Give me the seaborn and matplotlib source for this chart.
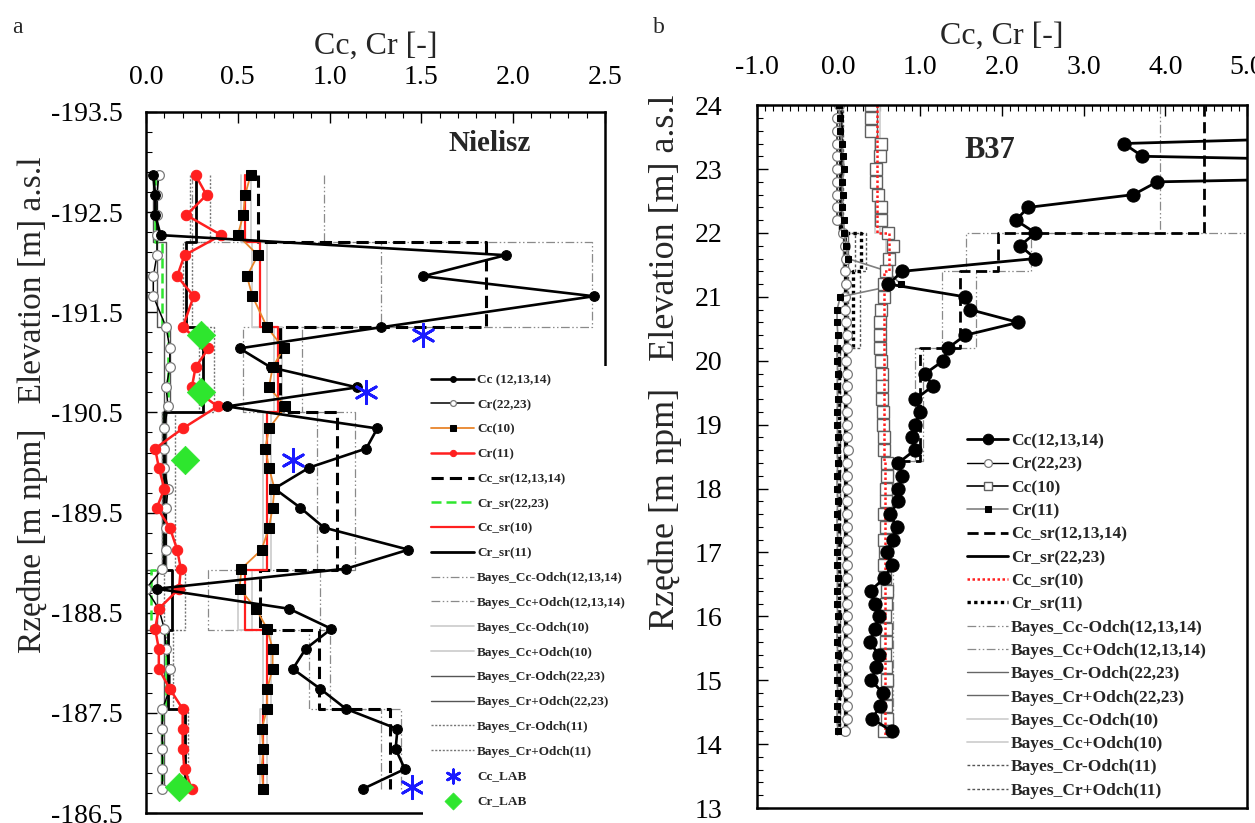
import numpy as np
import matplotlib
matplotlib.use("Agg")
import matplotlib.pyplot as plt
from matplotlib.ticker import FixedLocator, MultipleLocator, FormatStrFormatter
from matplotlib.patches import Rectangle
import seaborn as sns

sns.set_theme(style="white")
plt.rcParams["font.family"] = ["Liberation Serif", "DejaVu Serif"]
plt.rcParams["mathtext.fontset"] = "stix"

# ---------------- Panel a (Nielisz) ----------------
a_depth = [-192.87, -192.67, -192.47, -192.27, -192.07, -191.86, -191.66, -191.35,
           -191.14, -190.95, -190.75, -190.56, -190.34, -190.14, -189.95, -189.74,
           -189.55, -189.35, -189.13, -188.94, -188.74, -188.54, -188.34, -188.14,
           -187.94, -187.74, -187.54, -187.34, -187.14, -186.94, -186.74]
a_cc121314 = [0.04, 0.05, 0.05, 0.08, 1.96, 1.51, 2.44, 1.28, 0.51, 0.68, 1.15, 0.44,
              1.26, 1.20, 0.89, 0.70, 0.84, 0.97, 1.43, 1.09, 0.06, 0.78, 1.01, 0.87,
              0.80, 0.95, 1.09, 1.37, 1.36, 1.41, 1.18]
a_cr2223 = [0.07, 0.06, 0.06, 0.06, 0.06, 0.04, 0.04, 0.11, 0.13, 0.13, 0.11, 0.12,
            0.10, 0.10, 0.10, 0.12, 0.11, 0.11, 0.11, 0.09, 0.00, 0.07, 0.10, 0.11,
            0.13, 0.13, 0.09, 0.09, 0.09, 0.09, 0.09]
a_cc10 = [0.57, 0.54, 0.53, 0.50, 0.61, 0.55, 0.58, 0.66, 0.75, 0.69, 0.67, 0.76,
          0.67, 0.65, 0.67, 0.70, 0.69, 0.67, 0.63, 0.52, 0.51, 0.60, 0.66, 0.69,
          0.69, 0.66, 0.66, 0.63, 0.64, 0.63, 0.64]
a_cr11 = [0.27, 0.33, 0.22, 0.41, 0.21, 0.17, 0.26, 0.20, 0.34, 0.27, 0.25, 0.39,
          0.20, 0.05, 0.07, 0.10, 0.06, 0.13, 0.17, 0.19, 0.18, 0.07, 0.05, 0.07,
          0.07, 0.13, 0.20, 0.20, 0.20, 0.21, 0.25]

a_bounds = [-192.87, -192.2, -191.35, -190.5, -188.93, -188.33, -187.54, -186.74]
a_cc_sr121314 = [0.61, 1.85, 0.73, 1.04, 0.62, 0.94, 1.33]
a_cr_sr2223 = [0.05, 0.09, 0.12, 0.10, 0.03, 0.11, 0.09]
a_cc_sr10 = [0.54, 0.62, 0.72, 0.66, 0.54, 0.66, 0.64]
a_cr_sr11 = [0.27, 0.22, 0.31, 0.10, 0.14, 0.12, 0.21]
a_bay_cc121314_lo = [0.25, 1.28, 0.53, 0.93, 0.34, 0.89, 1.28]
a_bay_cc121314_hi = [0.97, 2.43, 0.85, 1.14, 0.95, 1.00, 1.39]
a_bay_cc10_lo = [0.52, 0.58, 0.70, 0.64, 0.50, 0.64, 0.62]
a_bay_cc10_hi = [0.57, 0.66, 0.74, 0.68, 0.58, 0.68, 0.66]
a_bay_cr2223_lo = [0.04, 0.06, 0.10, 0.09, 0.00, 0.10, 0.08]
a_bay_cr2223_hi = [0.06, 0.11, 0.13, 0.11, 0.06, 0.12, 0.10]
a_bay_cr11_lo = [0.24, 0.20, 0.29, 0.09, 0.10, 0.11, 0.20]
a_bay_cr11_hi = [0.35, 0.25, 0.37, 0.16, 0.21, 0.15, 0.23]

a_lab_depth = [-191.27, -190.70, -190.03, -186.76]
a_cc_lab = [1.51, 1.20, 0.80, 1.45]
a_cr_lab = [0.30, 0.30, 0.21, 0.18]

a_xticks = [0.0, 0.5, 1.0, 1.5, 2.0, 2.5]
a_yticks = [-193.5, -192.5, -191.5, -190.5, -189.5, -188.5, -187.5, -186.5]

# ---------------- Panel b (B37) ----------------
b_depth = [24.0, 23.8, 23.6, 23.4, 23.2, 23.0, 22.8, 22.6, 22.4, 22.2, 22.0, 21.8,
           21.6, 21.4, 21.2, 21.0, 20.8, 20.6, 20.4, 20.2, 20.0, 19.8, 19.6, 19.4,
           19.2, 19.0, 18.8, 18.6, 18.4, 18.2, 18.0, 17.8, 17.6, 17.4, 17.2, 17.0,
           16.8, 16.6, 16.4, 16.2, 16.0, 15.8, 15.6, 15.4, 15.2, 15.0, 14.8, 14.6,
           14.4, 14.2]
b_cr2223 = [0.00, -0.02, -0.02, -0.02, -0.02, -0.02, -0.02, -0.02, -0.02, -0.02,
            0.05, 0.08, 0.09, 0.08, 0.09, 0.08, 0.08, 0.09, 0.10, 0.10, 0.09, 0.10,
            0.10, 0.09, 0.10, 0.10, 0.10, 0.11, 0.10, 0.10, 0.10, 0.10, 0.10, 0.10,
            0.10, 0.10, 0.10, 0.10, 0.10, 0.10, 0.10, 0.10, 0.10, 0.10, 0.10, 0.10,
            0.10, 0.10, 0.10, 0.08]
b_cc10 = [0.40, 0.40, 0.40, 0.52, 0.50, 0.46, 0.46, 0.48, 0.52, 0.52, 0.60, 0.67,
          0.62, 0.58, 0.56, 0.55, 0.52, 0.50, 0.50, 0.51, 0.52, 0.53, 0.53, 0.53,
          0.54, 0.54, 0.55, 0.55, 0.59, 0.59, 0.58, 0.58, 0.56, 0.58, 0.56, 0.57,
          0.55, 0.57, 0.59, 0.58, 0.57, 0.58, 0.58, 0.57, 0.58, 0.59, 0.58, 0.58,
          0.59, 0.55]
b_cr11 = [0.00, 0.02, 0.02, 0.04, 0.05, 0.07, 0.04, 0.05, 0.04, 0.06, 0.07, 0.09,
          0.11, 0.60, 0.76, 0.02, -0.02, -0.02, -0.01, -0.02, -0.02, -0.01, -0.02,
          -0.01, -0.02, -0.02, -0.01, -0.02, -0.01, -0.02, -0.02, -0.01, -0.02,
          -0.02, -0.01, -0.02, -0.02, -0.01, -0.02, -0.02, -0.01, -0.02, -0.02,
          -0.01, -0.02, -0.02, -0.01, -0.02, -0.02, -0.01]
b_cc_depth = [23.6, 23.4, 23.2, 23.0, 22.8, 22.6, 22.4, 22.2, 22.0, 21.8, 21.6, 21.4,
              21.2, 21.0, 20.8, 20.6, 20.4, 20.2, 20.0, 19.8, 19.6, 19.4, 19.2, 19.0,
              18.8, 18.6, 18.4, 18.2, 18.0, 17.8, 17.6, 17.4, 17.2, 17.0, 16.8, 16.6,
              16.4, 16.2, 16.0, 15.8, 15.6, 15.4, 15.2, 15.0, 14.8, 14.6, 14.4, 14.2]
b_cc121314 = [9.0, 3.49, 3.72, 12.0, 3.90, 3.61, 2.32, 2.17, 2.41, 2.22, 2.41, 0.78,
              0.61, 1.55, 1.61, 2.20, 1.55, 1.34, 1.28, 1.06, 1.15, 0.94, 1.00, 0.93,
              0.90, 0.93, 0.73, 0.78, 0.73, 0.73, 0.63, 0.71, 0.66, 0.59, 0.65, 0.56,
              0.39, 0.44, 0.49, 0.44, 0.38, 0.49, 0.46, 0.40, 0.54, 0.51, 0.41, 0.65]

b_bounds = [24.0, 22.0, 21.4, 20.2, 18.43, 14.15]
b_cc_sr121314 = [4.47, 1.95, 1.48, 0.99, 0.60]
b_cr_sr2223 = [0.02, 0.08, 0.08, 0.08, 0.08]
b_cc_sr10 = [0.47, 0.62, 0.55, 0.56, 0.57]
b_cr_sr11 = [0.03, 0.27, 0.18, 0.00, 0.00]
b_bay_cc121314_lo = [3.93, 1.56, 1.27, 0.94, 0.55]
b_bay_cc121314_hi = [5.50, 2.35, 1.68, 1.03, 0.66]
b_bay_cr2223_lo = [0.00, 0.05, 0.06, 0.06, 0.06]
b_bay_cr2223_hi = [0.04, 0.12, 0.10, 0.10, 0.10]
b_bay_cc10_lo = [0.44, 0.58, 0.52, 0.54, 0.55]
b_bay_cc10_hi = [0.50, 0.66, 0.58, 0.58, 0.60]
b_bay_cr11_lo = [0.01, 0.20, 0.12, -0.02, -0.02]
b_bay_cr11_hi = [0.05, 0.34, 0.26, 0.02, 0.02]

b_xticks = [-1.0, 0.0, 1.0, 2.0, 3.0, 4.0, 5.0]
b_yticks = [13, 14, 15, 16, 17, 18, 19, 20, 21, 22, 23, 24]


def steps(bounds, vals):
    ys = np.repeat(np.asarray(bounds, float), 2)[1:-1]
    xs = np.repeat(np.asarray(vals, float), 2)
    return xs, ys


def line(ax, x, y, label, **kw):
    sns.lineplot(x=np.asarray(x, float), y=np.asarray(y, float), sort=False,
                 estimator=None, ax=ax, legend=False, **kw)
    ln = ax.lines[-1]
    ln.set_label(label)
    return ln


def step(ax, bounds, vals, label, **kw):
    xs, ys = steps(bounds, vals)
    return line(ax, xs, ys, label, **kw)


DASHDOT = (0, (7, 2, 1.2, 2, 1.2, 2))
GREEN = "#2ee62e"
ORANGE = "#e8852b"
RED = "#ff1f1f"

fig = plt.figure(figsize=(12.55, 8.23), dpi=100)
axa = fig.add_axes([0.1163, 0.012, 0.3657, 0.852])
axb = fig.add_axes([0.6032, 0.0182, 0.3904, 0.854])

# ======== Panel a ========
ax = axa
h = {}
h["bcc-"] = step(ax, a_bounds, a_bay_cc121314_lo, "Bayes_Cc-Odch(12,13,14)", color="#8a8a8a", lw=0.9, linestyle=DASHDOT)
h["bcc+"] = step(ax, a_bounds, a_bay_cc121314_hi, "Bayes_Cc+Odch(12,13,14)", color="#8a8a8a", lw=0.9, linestyle=DASHDOT)
h["bc10-"] = step(ax, a_bounds, a_bay_cc10_lo, "Bayes_Cc-Odch(10)", color="#cfcfcf", lw=1.3)
h["bc10+"] = step(ax, a_bounds, a_bay_cc10_hi, "Bayes_Cc+Odch(10)", color="#cfcfcf", lw=1.3)
h["bcr-"] = step(ax, a_bounds, a_bay_cr2223_lo, "Bayes_Cr-Odch(22,23)", color="#555555", lw=1.0)
h["bcr+"] = step(ax, a_bounds, a_bay_cr2223_hi, "Bayes_Cr+Odch(22,23)", color="#555555", lw=1.0)
h["bcr11-"] = step(ax, a_bounds, a_bay_cr11_lo, "Bayes_Cr-Odch(11)", color="#777777", lw=1.0, linestyle=(0, (1.5, 1.2)))
h["bcr11+"] = step(ax, a_bounds, a_bay_cr11_hi, "Bayes_Cr+Odch(11)", color="#777777", lw=1.0, linestyle=(0, (1.5, 1.2)))
h["ccsr"] = step(ax, a_bounds, a_cc_sr121314, "Cc_sr(12,13,14)", color="black", lw=2.2, linestyle=(0, (4, 2)))
h["crsr"] = step(ax, a_bounds, a_cr_sr2223, "Cr_sr(22,23)", color=GREEN, lw=1.8, linestyle=(0, (4, 2)))
h["ccsr10"] = step(ax, a_bounds, a_cc_sr10, "Cc_sr(10)", color=RED, lw=1.6)
h["crsr11"] = step(ax, a_bounds, a_cr_sr11, "Cr_sr(11)", color="black", lw=2.0)

h["cr2223"] = line(ax, a_cr2223, a_depth, "Cr(22,23)", color="black", lw=1.1, marker="o", ms=7,
                   mfc="white", mec="#7a7a7a", mew=0.9)
h["cc10"] = line(ax, a_cc10, a_depth, "Cc(10)", color=ORANGE, lw=1.3, marker="s", ms=7.5,
                 mfc="black", mec="black")
h["cr11"] = line(ax, a_cr11, a_depth, "Cr(11)", color=RED, lw=1.8, marker="o", ms=7.5,
                 mfc=RED, mec=RED)
h["cc"] = line(ax, a_cc121314, a_depth, "Cc (12,13,14)", color="black", lw=1.9, marker="o", ms=7,
               mfc="black", mec="black")

sns.scatterplot(x=a_cc_lab, y=a_lab_depth, ax=ax, marker=(6, 2, 0), s=260, color="#1a1aff",
                edgecolor="#1a1aff", linewidth=2.0, zorder=6, legend=False)
h["cclab"] = ax.collections[-1]
h["cclab"].set_label("Cc_LAB")
sns.scatterplot(x=a_cr_lab, y=a_lab_depth, ax=ax, marker="D", s=210, color=GREEN,
                edgecolor=GREEN, linewidth=0.5, zorder=6, legend=False)
h["crlab"] = ax.collections[-1]
h["crlab"].set_label("Cr_LAB")

ax.set_xlim(0, 2.5)
ax.set_ylim(-186.5, -193.5)
ax.xaxis.set_major_locator(FixedLocator(a_xticks))
ax.xaxis.set_minor_locator(MultipleLocator(0.1))
ax.xaxis.set_major_formatter(FormatStrFormatter("%.1f"))
ax.yaxis.set_major_locator(FixedLocator(a_yticks))
ax.yaxis.set_minor_locator(FixedLocator(np.round(np.arange(-193.5, -186.45, 0.2), 2)))
ax.yaxis.set_major_formatter(FormatStrFormatter("%.1f"))
ax.text(0.75, 0.955, "Nielisz", transform=ax.transAxes, ha="center", va="center",
        fontsize=21, fontweight="bold")

# white block behind the legend, hiding the frame in that corner
ax.add_patch(Rectangle((0.6035, -0.03), 0.5, 0.6377 + 0.03, transform=ax.transAxes,
                       facecolor="white", edgecolor="none", clip_on=False, zorder=9))

order_a = ["cc", "cr2223", "cc10", "cr11", "ccsr", "crsr", "ccsr10", "crsr11",
           "bcc-", "bcc+", "bc10-", "bc10+", "bcr-", "bcr+", "bcr11-", "bcr11+",
           "cclab", "crlab"]
leg = ax.legend([h[k] for k in order_a], [h[k].get_label() for k in order_a],
                loc="upper left", bbox_to_anchor=(0.6035, 0.6377), borderaxespad=0,
                frameon=False, prop={"family": "Liberation Serif", "weight": "bold", "size": 9.5},
                labelspacing=0.95, handlelength=3.3, handletextpad=0.2, borderpad=0.6,
                markerscale=0.6)
leg.set_zorder(10)

# ======== Panel b ========
ax = axb
g = {}
g["bcc-"] = step(ax, b_bounds, b_bay_cc121314_lo, "Bayes_Cc-Odch(12,13,14)", color="#8a8a8a", lw=0.9, linestyle=DASHDOT)
g["bcc+"] = step(ax, b_bounds, b_bay_cc121314_hi, "Bayes_Cc+Odch(12,13,14)", color="#8a8a8a", lw=0.9, linestyle=DASHDOT)
g["bcr-"] = step(ax, b_bounds, b_bay_cr2223_lo, "Bayes_Cr-Odch(22,23)", color="#666666", lw=1.0)
g["bcr+"] = step(ax, b_bounds, b_bay_cr2223_hi, "Bayes_Cr+Odch(22,23)", color="#666666", lw=1.0)
g["bc10-"] = step(ax, b_bounds, b_bay_cc10_lo, "Bayes_Cc-Odch(10)", color="#d0d0d0", lw=1.3)
g["bc10+"] = step(ax, b_bounds, b_bay_cc10_hi, "Bayes_Cc+Odch(10)", color="#d0d0d0", lw=1.3)
g["bcr11-"] = step(ax, b_bounds, b_bay_cr11_lo, "Bayes_Cr-Odch(11)", color="#555555", lw=1.0, linestyle=(0, (2, 1.5)))
g["bcr11+"] = step(ax, b_bounds, b_bay_cr11_hi, "Bayes_Cr+Odch(11)", color="#555555", lw=1.0, linestyle=(0, (2, 1.5)))
g["ccsr"] = step(ax, b_bounds, b_cc_sr121314, "Cc_sr(12,13,14)", color="black", lw=2.0, linestyle=(0, (4, 2)))
g["crsr"] = step(ax, b_bounds, b_cr_sr2223, "Cr_sr(22,23)", color="black", lw=2.0)
g["crsr11"] = step(ax, b_bounds, b_cr_sr11, "Cr_sr(11)", color="black", lw=2.4, linestyle=(0, (1, 1)))

g["cr2223"] = line(ax, b_cr2223, b_depth, "Cr(22,23)", color="black", lw=1.0, marker="o", ms=7,
                   mfc="white", mec="#7a7a7a", mew=0.9)
g["cr11"] = line(ax, b_cr11, b_depth, "Cr(11)", color="#808080", lw=1.2, marker="s", ms=5,
                 mfc="black", mec="black")
g["cc10"] = line(ax, b_cc10, b_depth, "Cc(10)", color="black", lw=1.2, marker="s", ms=8,
                 mfc="white", mec="#606060", mew=1.0)
g["ccsr10"] = step(ax, b_bounds, b_cc_sr10, "Cc_sr(10)", color=RED, lw=1.8, linestyle=(0, (1, 1)))
g["cc"] = line(ax, b_cc121314, b_cc_depth, "Cc(12,13,14)", color="black", lw=2.0, marker="o", ms=9.5,
               mfc="black", mec="black")

ax.set_xlim(-1, 5)
ax.set_ylim(13, 24)
ax.xaxis.set_major_locator(FixedLocator(b_xticks))
ax.xaxis.set_minor_locator(MultipleLocator(0.1))
ax.xaxis.set_major_formatter(FormatStrFormatter("%.1f"))
ax.yaxis.set_major_locator(FixedLocator(b_yticks))
ax.yaxis.set_minor_locator(MultipleLocator(0.2))
ax.yaxis.set_major_formatter(FormatStrFormatter("%d"))
ax.text(0.475, 0.936, "B37", transform=ax.transAxes, ha="center", va="center",
        fontsize=22, fontweight="bold")

order_b = ["cc", "cr2223", "cc10", "cr11", "ccsr", "crsr", "ccsr10", "crsr11",
           "bcc-", "bcc+", "bcr-", "bcr+", "bc10-", "bc10+", "bcr11-", "bcr11+"]
ax.legend([g[k] for k in order_b], [g[k].get_label() for k in order_b],
          loc="upper left", bbox_to_anchor=(0.428, 0.533), borderaxespad=0,
          frameon=False, prop={"family": "Liberation Serif", "weight": "bold", "size": 12.5},
          labelspacing=0.41, handlelength=2.4, handletextpad=0.15, borderpad=0,
          markerscale=0.8)

# ======== Common styling ========
for ax, lab_x, lab_y, ylab_size in [(axa, -0.213, 0.583, 24), (axb, -0.153, 0.634, 26)]:
    for sp in ax.spines.values():
        sp.set_visible(True)
        sp.set_color("black")
        sp.set_linewidth(1.8)
    ax.xaxis.tick_top()
    ax.xaxis.set_label_position("top")
    ax.tick_params(axis="both", which="both", direction="in", colors="black",
                   top=True, bottom=False, left=True, right=False)
    ax.tick_params(axis="both", which="major", length=8, width=1.0, labelsize=20)
    ax.tick_params(axis="both", which="minor", length=4.5, width=0.8)
    ax.tick_params(axis="x", which="major", pad=16)
    ax.tick_params(axis="y", which="major", pad=17)
    ax.set_xlabel("Cc, Cr [-]", fontsize=23, labelpad=8)
    ax.set_ylabel("Rzędne [m npm]   Elevation [m] a.s.l", fontsize=ylab_size)
    ax.yaxis.set_label_coords(lab_x, lab_y)
    ax.grid(False)
    ax.set_facecolor("white")

axb.tick_params(axis="y", which="major", pad=25)
axb.tick_params(axis="x", which="major", pad=18)

fig.text(0.010, 0.967, "a", fontsize=17, ha="left", va="center")
fig.text(0.520, 0.967, "b", fontsize=17, ha="left", va="center")

fig.savefig("out.png", dpi=100, facecolor="white")
